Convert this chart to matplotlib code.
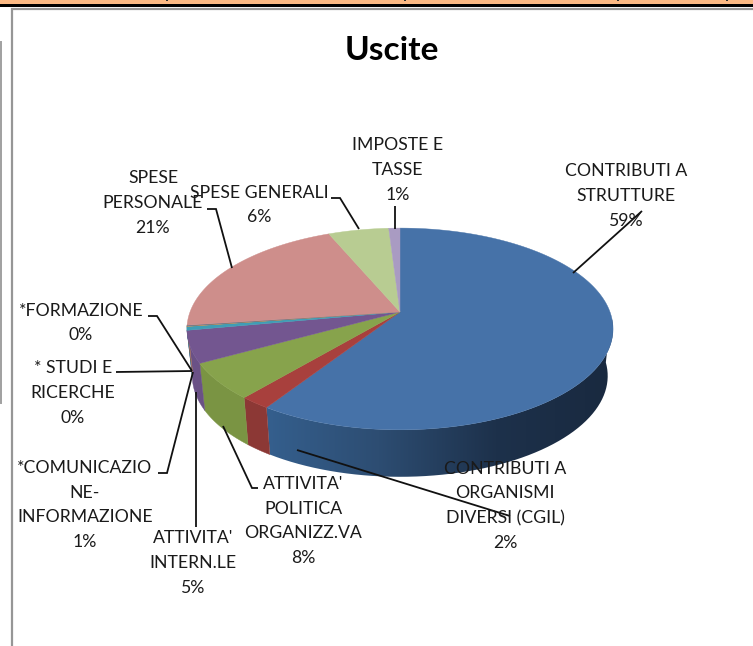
import numpy as np
import matplotlib
matplotlib.use("Agg")
import matplotlib.pyplot as plt
from matplotlib.patches import Polygon, Rectangle
from matplotlib.colors import LinearSegmentedColormap

plt.rcParams['font.family'] = ['Lato', 'DejaVu Sans']

# slices, clockwise from 12 o'clock
names = ["CONTRIBUTI A\nSTRUTTURE", "CONTRIBUTI A\nORGANISMI\nDIVERSI (CGIL)",
         "ATTIVITA'\nPOLITICA\nORGANIZZ.VA", "ATTIVITA'\nINTERN.LE",
         "*COMUNICAZIO\nNE-\nINFORMAZIONE", "* STUDI E\nRICERCHE", "*FORMAZIONE",
         "SPESE\nPERSONALE", "SPESE GENERALI", "IMPOSTE E\nTASSE"]
pct_labels = ["59%", "2%", "8%", "5%", "1%", "0%", "0%", "21%", "6%", "1%"]
shares = [59.2, 2.0, 5.8, 5.1, 0.6, 0.1, 0.1, 20.7, 5.4, 1.0]

top_colors = ["#4672A8", "#A8403D", "#87A34C", "#735690", "#3F9DB5", "#C98A4A",
              "#54708F", "#CE8E8B", "#B8CC92", "#A99BC2"]
wall_colors = ["#2D4D72", "#8C3835", "#7A9443", "#6A5186", "#357F92", "#A87238",
               "#44586F", "#A87370", "#94A676", "#88799E"]
blue_wall = LinearSegmentedColormap.from_list("blue_wall", ["#35608F", "#2D4D72", "#1D314B", "#19293F"])

# centre of each label in pixels
label_pos = [(626, 196), (505, 506), (303, 521), (193, 563), (85, 505),
             (73, 393), (81, 323), (153, 203), (259, 205), (398, 170)]

# leader lines in pixels
leaders = [[(642, 211), (573, 273)],
           [(510, 516), (297, 450)],
           [(258, 488), (252, 488), (223, 426)],
           [(196, 527), (196, 392)],
           [(158, 473), (167, 473), (193, 372)],
           [(116, 372), (192, 371)],
           [(148, 316), (157, 316), (192, 371)],
           [(207, 209), (216, 209), (232, 268)],
           [(331, 198), (340, 198), (359, 229)],
           [(395, 206), (395, 229)]]

speck_x = [166, 404, 617, 726]

def project(theta, depth=0.0, shrink=1.0):
    # tilted disc with perspective: theta clockwise from the top, radians
    ux = np.sin(theta)
    uy = -np.cos(theta)
    w = 1 - 0.168 * uy
    sx = 400 + 210 * shrink * ux / w
    sy = (45.6 * uy + 312) / w + depth
    return sx, sy

fig = plt.figure(figsize=(7.53, 6.46), dpi=100)
ax = fig.add_axes([0, 0, 1, 1])
ax.set_xlim(0, 753)
ax.set_ylim(646, 0)
ax.axis('off')

# page bits around the chart
ax.add_patch(Rectangle((0, 0), 753, 3.5, color="#FBB984", lw=0))
ax.add_patch(Rectangle((0, 3.5), 753, 3.5, color="black", lw=0))
for sx in speck_x:
    ax.add_patch(Rectangle((sx, 0), 2.5, 1, color="#333333", lw=0))
ax.plot([12, 12, 753], [646, 9, 9], color="#969696", lw=1.6, solid_joinstyle='miter')
ax.plot([0.5, 0.5], [42, 403], color="#a0a0a0", lw=1.4)

ax.text(392, 50, "Uscite", fontsize=24, fontweight='bold', ha='center', va='center', color="black")

edges = np.cumsum([0] + shares) / sum(shares) * 2 * np.pi
wall_from = np.radians(92)
wall_to = np.radians(263)

# side walls first
for i in range(len(shares)):
    a = max(edges[i], wall_from)
    b = min(edges[i + 1], wall_to)
    if b <= a:
        continue
    th = np.linspace(a, b, 60)
    x_top, y_top = project(th)
    x_bot, y_bot = project(th[::-1], 47, 0.975)
    outline = list(zip(x_top, y_top)) + list(zip(x_bot, y_bot))
    if i == 0:
        # blue wall gets darker towards the right
        poly = Polygon(outline, facecolor='none', edgecolor='none')
        ax.add_patch(poly)
        grad = blue_wall(np.linspace(0, 1, 256))[np.newaxis, :, :]
        im = ax.imshow(grad, extent=(260, 615, 480, 320), aspect='auto', zorder=1)
        im.set_clip_path(poly)
    else:
        ax.add_patch(Polygon(outline, facecolor=wall_colors[i], edgecolor=wall_colors[i], lw=0.3, zorder=1))
ax.set_xlim(0, 753)
ax.set_ylim(646, 0)

# top of the disc
apex = (400, 312)
for i in range(len(shares)):
    th = np.linspace(edges[i], edges[i + 1], max(3, int((edges[i + 1] - edges[i]) * 80)))
    sx, sy = project(th)
    pts = [apex] + list(zip(sx, sy))
    ax.add_patch(Polygon(pts, facecolor=top_colors[i], edgecolor=top_colors[i], lw=0.3, zorder=2))

# leaders
for pts in leaders:
    xs, ys = zip(*pts)
    ax.plot(xs, ys, color="#111111", lw=1.3, solid_capstyle='butt', solid_joinstyle='miter', zorder=3)

# labels
for name, pct, pos in zip(names, pct_labels, label_pos):
    ax.text(pos[0], pos[1], name + "\n" + pct, fontsize=12.7, ha='center', va='center',
            linespacing=1.68, color="#1a1a1a", zorder=4)

fig.savefig("out.png", dpi=100)
